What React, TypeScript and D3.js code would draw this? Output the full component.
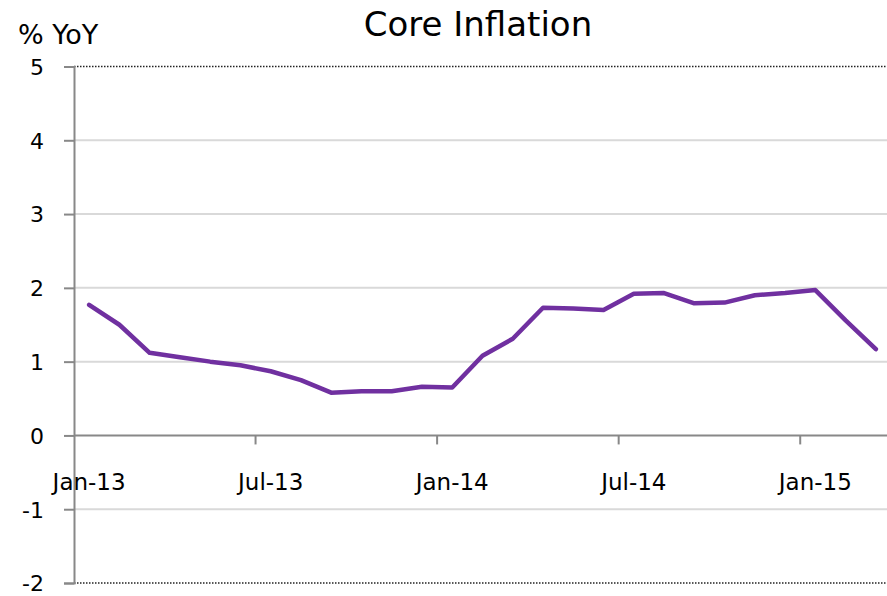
import React, { useEffect, useRef } from "react";
import * as d3 from "d3";

const months = [
  "Jan-13", "Feb-13", "Mar-13", "Apr-13", "May-13", "Jun-13", "Jul-13", "Aug-13", "Sep-13",
  "Oct-13", "Nov-13", "Dec-13", "Jan-14", "Feb-14", "Mar-14", "Apr-14", "May-14", "Jun-14",
  "Jul-14", "Aug-14", "Sep-14", "Oct-14", "Nov-14", "Dec-14", "Jan-15", "Feb-15", "Mar-15",
];
const coreInflation = [
  1.77, 1.5, 1.12, 1.06, 1.0, 0.95, 0.87, 0.75, 0.58,
  0.6, 0.6, 0.66, 0.65, 1.08, 1.31, 1.73, 1.72, 1.7,
  1.92, 1.93, 1.79, 1.8, 1.9, 1.93, 1.97, 1.56, 1.17,
];
const yTicks = [-2, -1, 0, 1, 2, 3, 4, 5];
const labelMonths = ["Jan-13", "Jul-13", "Jan-14", "Jul-14", "Jan-15"];

const W = 887;
const H = 596;
const FONT = "'DejaVu Sans', Tahoma, sans-serif";

const App = () => {
  const ref = useRef<SVGSVGElement>(null);

  useEffect(() => {
    const svg = d3.select(ref.current);
    svg.selectAll("*").remove();

    const left = 74;
    const right = 887;
    const top = 66.5;
    const bottom = 583;

    // categories run slightly past the visible right edge
    const x = d3.scaleBand().domain(months).range([left, 891]).padding(0);
    const y = d3.scaleLinear().domain([-2, 5]).range([bottom, top]);

    // gridlines
    svg
      .append("g")
      .selectAll("line")
      .data(yTicks.filter((d) => d !== 0 && d !== 5 && d !== -2))
      .enter()
      .append("line")
      .attr("x1", left)
      .attr("x2", right)
      .attr("y1", (d) => y(d))
      .attr("y2", (d) => y(d))
      .attr("stroke", "#d9d9d9")
      .attr("stroke-width", 2);

    // dotted top / bottom borders
    [5, -2].forEach((v) => {
      svg
        .append("line")
        .attr("x1", left)
        .attr("x2", right)
        .attr("y1", y(v))
        .attr("y2", y(v))
        .attr("stroke", "#222")
        .attr("stroke-width", 1.5)
        .attr("stroke-dasharray", "1.5,1.5");
    });

    // y axis
    const yAxis = svg
      .append("g")
      .attr("transform", `translate(${left},0)`)
      .call(
        d3.axisLeft(y).tickValues(yTicks).tickSize(10).tickPadding(20).tickFormat((d) => String(d))
      );
    yAxis.select(".domain").attr("stroke", "#888").attr("stroke-width", 2);
    yAxis.selectAll(".tick line").attr("stroke", "#888").attr("stroke-width", 2);
    yAxis
      .selectAll(".tick text")
      .attr("fill", "#000")
      .attr("dy", "0.36em")
      .style("font-size", "22px")
      .style("font-family", FONT);

    // zero line with category tick marks
    svg
      .append("line")
      .attr("x1", left)
      .attr("x2", right)
      .attr("y1", y(0))
      .attr("y2", y(0))
      .attr("stroke", "#888")
      .attr("stroke-width", 2);

    svg
      .append("g")
      .selectAll("line")
      .data(labelMonths.slice(1))
      .enter()
      .append("line")
      .attr("x1", (d) => x(d)!)
      .attr("x2", (d) => x(d)!)
      .attr("y1", y(0))
      .attr("y2", y(0) + 9)
      .attr("stroke", "#888")
      .attr("stroke-width", 2);

    svg
      .append("g")
      .selectAll("text")
      .data(labelMonths)
      .enter()
      .append("text")
      .attr("x", (d) => x(d)! + x.bandwidth() / 2)
      .attr("y", y(0) + 55)
      .attr("text-anchor", "middle")
      .style("font-size", "23px")
      .style("font-family", FONT)
      .text((d) => d);

    // line
    const line = d3
      .line<number>()
      .x((_, i) => x(months[i])! + x.bandwidth() / 2)
      .y((d) => y(d));
    svg
      .append("path")
      .datum(coreInflation)
      .attr("d", line)
      .attr("fill", "none")
      .attr("stroke", "#7030a0")
      .attr("stroke-width", 4.5)
      .attr("stroke-linejoin", "round")
      .attr("stroke-linecap", "round");

    // titles
    svg
      .append("text")
      .attr("x", 478)
      .attr("y", 36)
      .attr("text-anchor", "middle")
      .style("font-size", "34px")
      .style("font-family", FONT)
      .text("Core Inflation");

    svg
      .append("text")
      .attr("x", 18)
      .attr("y", 44)
      .style("font-size", "27px")
      .style("font-family", FONT)
      .text("% YoY");
  }, []);

  return (
    <svg
      ref={ref}
      width={W}
      height={H}
      style={{ position: "absolute", left: 0, top: 0, background: "#fff" }}
    />
  );
};

export default App;
